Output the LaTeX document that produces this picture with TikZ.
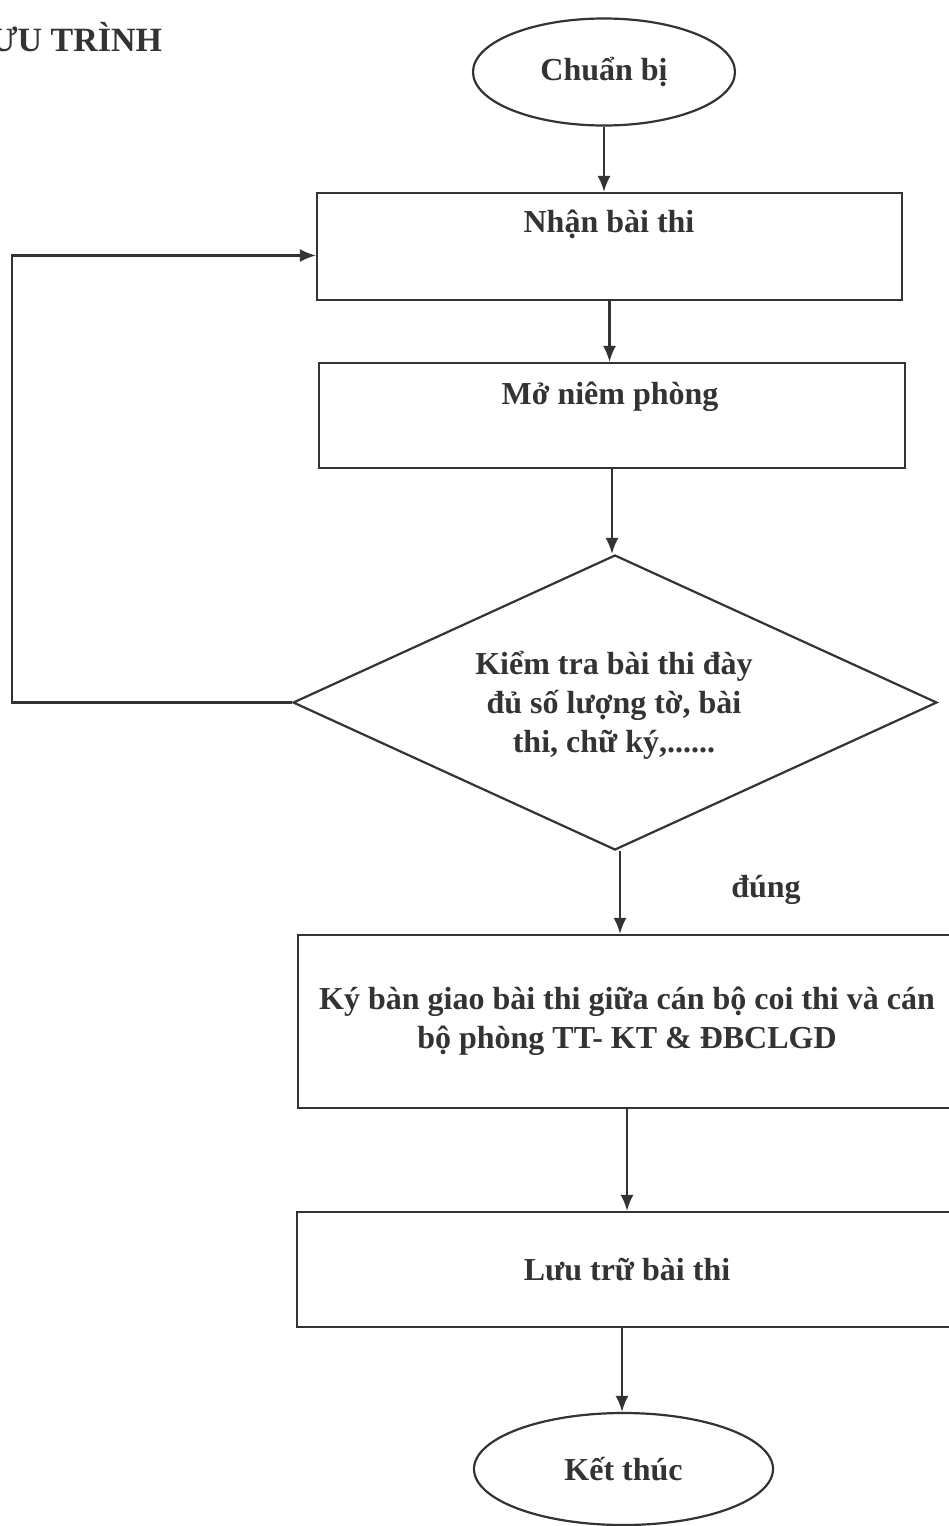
\documentclass[tikz,border=0pt]{standalone}
\usepackage{fontspec}
\setmainfont{Liberation Serif}
\usetikzlibrary{shapes.geometric,arrows.meta}
\definecolor{ink}{gray}{0.2}
\begin{document}
\begin{tikzpicture}[x=1pt,y=-1pt,
  every node/.style={text=ink,font=\fontsize{32}{39}\selectfont\bfseries},
  stepbox/.style={draw=ink,line width=2.2pt,rectangle,inner sep=0pt},
  terminal/.style={draw=ink,line width=2.2pt,ellipse,inner sep=0pt},
  decision/.style={draw=ink,line width=2.2pt,diamond,shape aspect=2.18,inner sep=0pt,align=center},
  arr/.style={draw=ink,line width=2.2pt,-{Latex[length=16pt,width=13pt]}}]
\useasboundingbox (0,0) rectangle (949,1526);
\clip (0,0) rectangle (949,1526);

% title (its first letter runs off the page edge)
\node[anchor=base west,font=\fontsize{34}{40}\selectfont\bfseries] (title) at (-13,51) {ƯU TRÌNH};

% start / end
\node[terminal,minimum width=262pt,minimum height=107pt] (start) at (604,72) {Chuẩn bị};
\node[terminal,minimum width=299pt,minimum height=112pt] (finish) at (623.5,1469) {Kết thúc};

% process boxes
\node[stepbox,minimum width=585pt,minimum height=107pt] (box1) at (609.5,246.5) {};
\node (box1t) at (609,224) {Nhận bài thi};
\node[stepbox,minimum width=586pt,minimum height=105pt] (box2) at (612,415.5) {};
\node (box2t) at (610,397) {Mở niêm phòng};
\node[stepbox,minimum width=658pt,minimum height=173pt,align=center] (box3) at (627,1021.5)
  {Ký bàn giao bài thi giữa cán bộ coi thi và cán\\bộ phòng TT- KT \& ĐBCLGD};
\node[stepbox,minimum width=660pt,minimum height=115pt] (box4) at (627,1269.5) {Lưu trữ bài thi};

% decision
\node[decision,minimum width=644pt,minimum height=295pt] (check) at (615,702.5) {};
\node[align=center] (checkt) at (614,705)
  {Kiểm tra bài thi đày\\đủ số lượng tờ, bài\\thi, chữ ký,......};

% label on the "yes" branch
\node (yes) at (766,890) {đúng};

% main flow
\draw[arr] (start.south) -- (start.south |- box1.north);
\draw[arr] (box1.south) -- (box1.south |- box2.north);
\draw[arr] (box2.south) -- (box2.south |- check.north);
\draw[arr] ([xshift=5pt]check.south) -- ([xshift=5pt]check.south |- box3.north);
\draw[arr] (box3.south) -- (box3.south |- box4.north);
\draw[arr] ([xshift=-5pt]box4.south) -- ([xshift=-5pt]box4.south |- finish.north);

% loop back when the check fails
\coordinate (loopcorner) at (12,500);
\coordinate (in1) at ([yshift=-9pt]box1.west);
\draw[arr] (check.west) -| (loopcorner) |- (in1);
\end{tikzpicture}
\end{document}
